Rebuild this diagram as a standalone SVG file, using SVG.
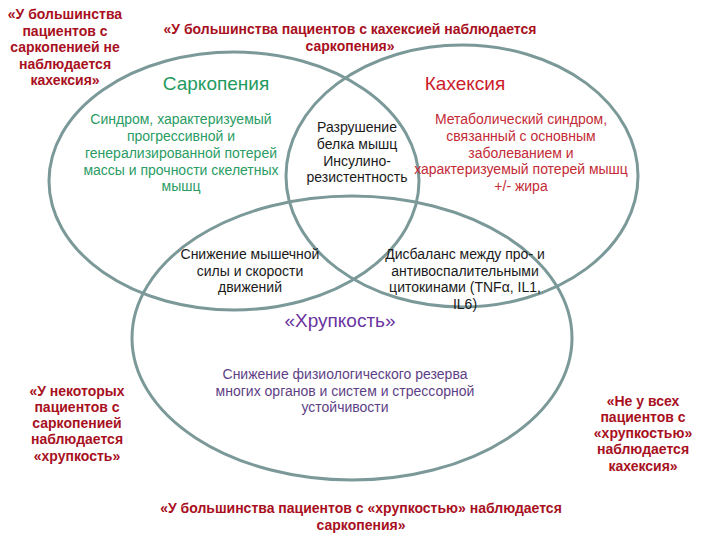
<svg xmlns="http://www.w3.org/2000/svg" width="720" height="540" viewBox="0 0 720 540">
<style>
.ring{fill:none;stroke:#7c9999;stroke-width:3}
text{font-family:"Liberation Sans",Arial,sans-serif;text-anchor:middle}
.note{font-size:14px;font-weight:bold;fill:#a8101e}
.body{font-size:14px}
.blk{fill:#1a1a1a}
.grn{fill:#2a9c64}
.red{fill:#c42a36}
.pur{fill:#5e3f86}
.title{font-size:19px}
</style>
<rect width="720" height="540" fill="#ffffff"/>
<g id="rings">
<ellipse class="ring" cx="234" cy="181" rx="185" ry="129"/>
<ellipse class="ring" cx="462" cy="176" rx="176" ry="131"/>
<ellipse class="ring" cx="352" cy="338" rx="220" ry="142"/>
</g>
<g id="note-top-left" class="note">
<text x="65" y="19">«У большинства</text>
<text x="65" y="35.5">пациентов с</text>
<text x="65" y="52">саркопенией не</text>
<text x="65" y="68.5">наблюдается</text>
<text x="65" y="85">кахексия»</text>
</g>
<g id="note-top" class="note">
<text x="350" y="34">«У большинства пациентов с кахексией наблюдается</text>
<text x="350" y="51">саркопения»</text>
</g>
<g id="sarcopenia">
<text class="title grn" x="216" y="90" style="fill:#1f9a5e">Саркопения</text>
<g class="body grn">
<text x="181" y="124">Синдром, характеризуемый</text>
<text x="181" y="141">прогрессивной и</text>
<text x="181" y="158">генерализированной  потерей</text>
<text x="181" y="175">массы и прочности скелетных</text>
<text x="181" y="191">мышц</text>
</g>
</g>
<g id="cachexia">
<text class="title" x="465" y="90" style="fill:#cc1b2b">Кахексия</text>
<g class="body red">
<text x="521" y="124">Метаболический синдром,</text>
<text x="521" y="141">связанный с основным</text>
<text x="521" y="158">заболеванием и</text>
<text x="521" y="174">характеризуемый потерей мышц</text>
<text x="521" y="191">+/- жира</text>
</g>
</g>
<g id="sarc-cach" class="body blk">
<text x="357" y="132">Разрушение</text>
<text x="357" y="149">белка мышц</text>
<text x="357" y="166">Инсулино-</text>
<text x="357" y="182">резистентность</text>
</g>
<g id="sarc-frail" class="body blk">
<text x="250" y="259">Снижение мышечной</text>
<text x="250" y="276">силы и скорости</text>
<text x="250" y="292">движений</text>
</g>
<g id="cach-frail" class="body blk">
<text x="465" y="259">Дисбаланс между про- и</text>
<text x="465" y="276">антивоспалительными</text>
<text x="465" y="292">цитокинами (TNFα, IL1,</text>
<text x="465" y="309">IL6)</text>
</g>
<g id="frailty">
<text class="title" x="340" y="327" style="fill:#6a35a0">«Хрупкость»</text>
<g class="body pur">
<text x="345" y="379">Снижение физиологического резерва</text>
<text x="345" y="396">многих органов и систем и стрессорной</text>
<text x="345" y="412">устойчивости</text>
</g>
</g>
<g id="note-bottom-left" class="note">
<text x="77" y="396">«У некоторых</text>
<text x="77" y="412">пациентов с</text>
<text x="77" y="428">саркопенией</text>
<text x="77" y="444">наблюдается</text>
<text x="77" y="461">«хрупкость»</text>
</g>
<g id="note-bottom-right" class="note">
<text x="643" y="406">«Не у всех</text>
<text x="643" y="422">пациентов с</text>
<text x="643" y="438">«хрупкостью»</text>
<text x="643" y="454">наблюдается</text>
<text x="643" y="471">кахексия»</text>
</g>
<g id="note-bottom" class="note">
<text x="361" y="513">«У большинства пациентов с «хрупкостью» наблюдается</text>
<text x="361" y="530">саркопения»</text>
</g>
</svg>
